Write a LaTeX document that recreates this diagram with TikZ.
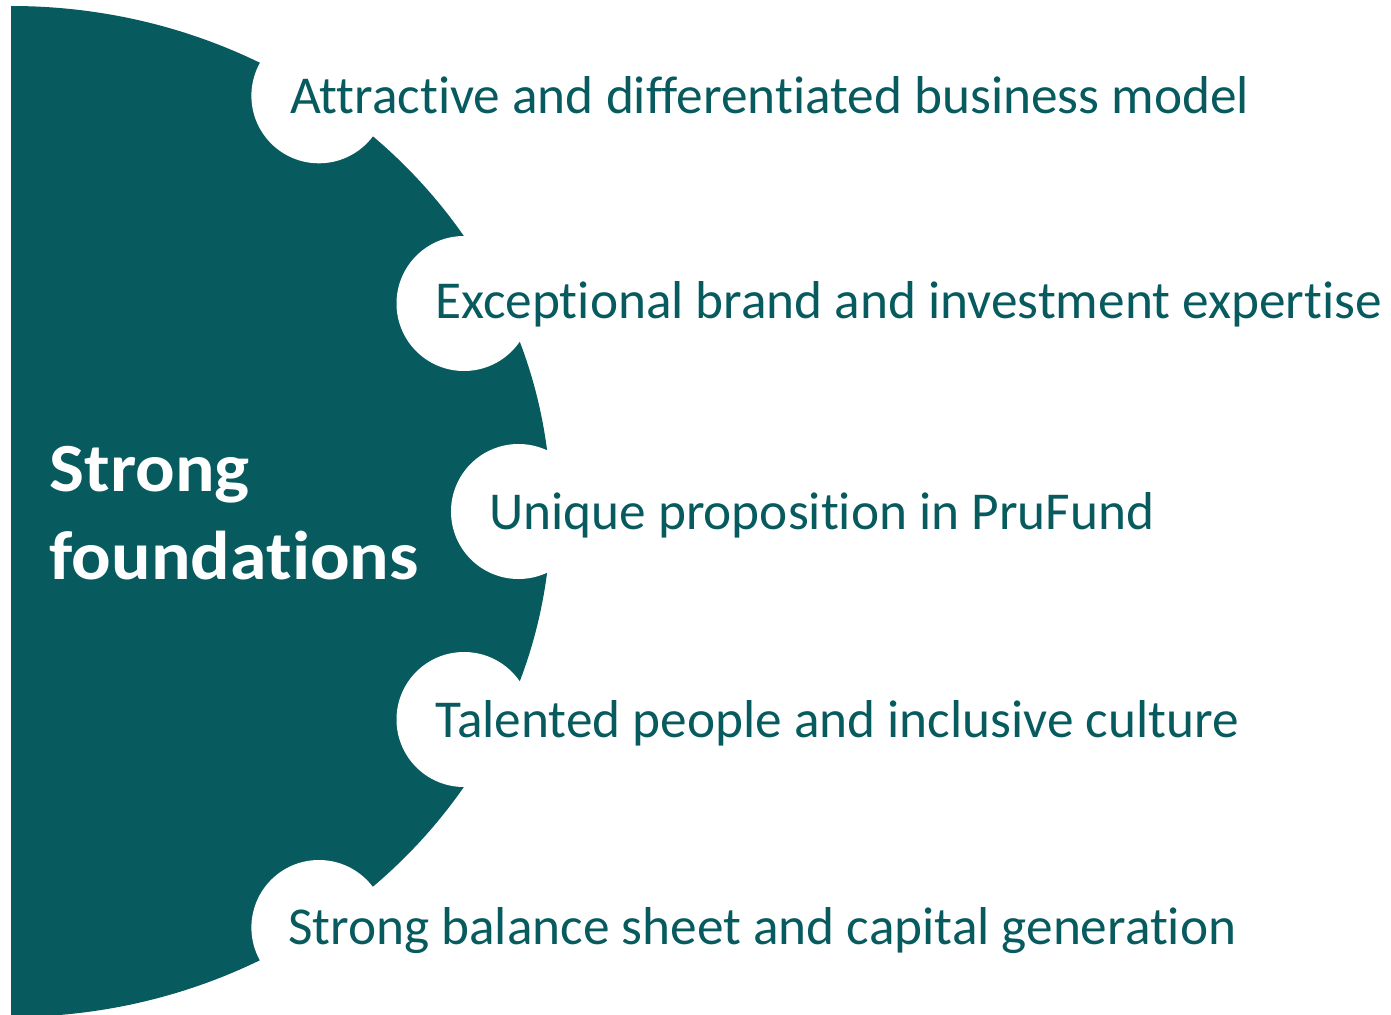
\documentclass[tikz,border=0pt]{standalone}
\usepackage{fontspec}
\setmainfont{Carlito}[Ligatures=NoCommon]
\definecolor{prudteal}{HTML}{075A5E}
\tikzset{
  notch/.style={circle, fill=white, inner sep=0pt, minimum size=135pt},
  pillar/.style={anchor=base west, inner sep=0pt, text=prudteal,
    font=\fontsize{53.3}{60}\selectfont},
  headline/.style={anchor=base west, inner sep=0pt, text=white, align=left,
    font=\fontsize{69}{88}\selectfont\bfseries\addfontfeature{FakeStretch=1.07}}
}
\begin{document}
\begin{tikzpicture}[x=1pt, y=-1pt]
  \useasboundingbox (0,0) rectangle (1391,1014);
  % half-ellipse body, cut flat on the left and at the bottom edge
  \begin{scope}
    \clip (11,0) rectangle (1391,1014);
    \fill[prudteal] (11,511.5) ellipse [x radius=540, y radius=505.5];
  \end{scope}
  % white notches along the rim
  \node[notch] (n1) at (318.9,95.8) {};
  \node[notch] (n2) at (464,303.5) {};
  \node[notch] (n3) at (518.5,511.5) {};
  \node[notch] (n4) at (464,719.5) {};
  \node[notch] (n5) at (318.9,927.5) {};
  % labels
  \node[headline] (title) at (49.5,579) {Strong\\foundations};
  \node[pillar] (p1) at (290,113.3) {Attractive and differentiated business model};
  \node[pillar] (p2) at (435,318.5) {Exceptional brand and investment expertise};
  \node[pillar] (p3) at (489,529.3) {Unique proposition in PruFund};
  \node[pillar] (p4) at (435,737.7) {Talented people and inclusive culture};
  \node[pillar] (p5) at (288,944) {Strong balance sheet and capital generation};
\end{tikzpicture}
\end{document}
